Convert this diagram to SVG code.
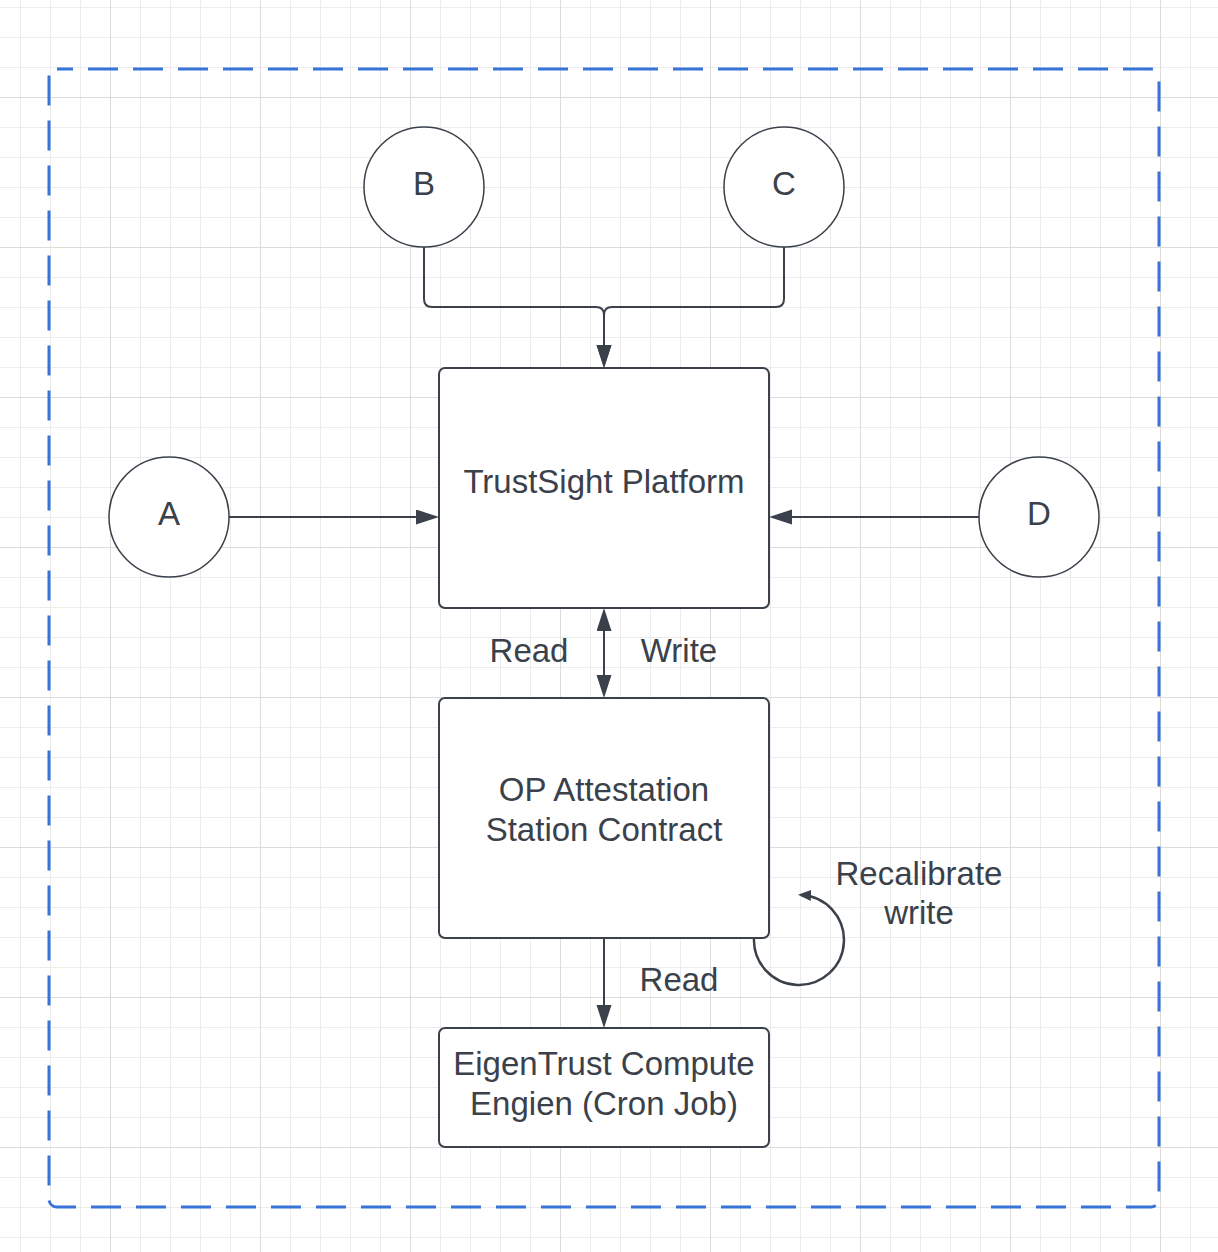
<svg xmlns="http://www.w3.org/2000/svg" width="1218" height="1252" viewBox="0 0 1218 1252">
<style>
.node{fill:#ffffff;stroke:#3a414a;stroke-width:2}
.circ{fill:#ffffff;stroke:#3a414a;stroke-width:1.5}
.lbl{font-family:"Liberation Sans",Arial,sans-serif;font-size:33px;fill:#3a414a;text-anchor:middle}
.con{fill:none;stroke:#3a414a;stroke-width:2}
</style>
<defs>
<pattern id="gMinor" patternUnits="userSpaceOnUse" x="20" y="7" width="30" height="30">
<rect x="0" y="0" width="1" height="30" fill="#ececec"/>
<rect x="0" y="0" width="30" height="1" fill="#ececec"/>
</pattern>
<pattern id="gMajor" patternUnits="userSpaceOnUse" x="110" y="97" width="150" height="150">
<rect x="0" y="0" width="1" height="150" fill="#dcdcdc"/>
<rect x="0" y="0" width="150" height="1" fill="#dcdcdc"/>
</pattern>
<marker id="arr" markerUnits="userSpaceOnUse" markerWidth="24" markerHeight="16" refX="20" refY="7.5" orient="auto-start-reverse">
<path d="M0,0 L23,7.5 L0,15 z" fill="#3a414a"/>
</marker>
<marker id="arrS" markerUnits="userSpaceOnUse" markerWidth="15" markerHeight="13" refX="10" refY="5.5" orient="auto">
<path d="M0,0 L13,5.5 L0,11 z" fill="#3a414a"/>
</marker>
</defs>
<rect width="1218" height="1252" fill="#ffffff"/>
<rect width="1218" height="1252" fill="url(#gMinor)"/>
<rect width="1218" height="1252" fill="url(#gMajor)"/>

<rect id="boundary" x="49" y="69" width="1110" height="1138" rx="8" fill="none" stroke="#3873d8" stroke-width="3" stroke-dasharray="30 15" stroke-dashoffset="14"/>

<g id="connectors">
<path class="con" d="M424 247 V299 Q424 307 432 307 H596 Q604 307 604 315 V365" marker-end="url(#arr)"/>
<path class="con" d="M784 247 V299 Q784 307 776 307 H612 Q604 307 604 315 V365" marker-end="url(#arr)"/>
<path class="con" d="M229 517 H436" marker-end="url(#arr)"/>
<path class="con" d="M979 517 H772" marker-end="url(#arr)"/>
<path class="con" d="M604 611 V695" marker-start="url(#arr)" marker-end="url(#arr)"/>
<path class="con" d="M604 938 V1025" marker-end="url(#arr)"/>
<path class="con" style="stroke-width:2.5" d="M754 938 A45 45 0 1 0 801 895" marker-end="url(#arrS)"/>
<text class="lbl" x="529" y="662">Read</text>
<text class="lbl" x="679" y="662">Write</text>
<text class="lbl" x="679" y="991">Read</text>
<text class="lbl" x="919" y="885">Recalibrate</text>
<text class="lbl" x="919" y="924">write</text>
</g>

<g id="node-B">
<circle class="circ" cx="424" cy="187" r="60"/>
<text class="lbl" x="424" y="195">B</text>
</g>
<g id="node-C">
<circle class="circ" cx="784" cy="187" r="60"/>
<text class="lbl" x="784" y="195">C</text>
</g>
<g id="node-A">
<circle class="circ" cx="169" cy="517" r="60"/>
<text class="lbl" x="169" y="525">A</text>
</g>
<g id="node-D">
<circle class="circ" cx="1039" cy="517" r="60"/>
<text class="lbl" x="1039" y="525">D</text>
</g>
<g id="node-trustsight">
<rect class="node" x="439" y="368" width="330" height="240" rx="6"/>
<text class="lbl" x="604" y="493">TrustSight Platform</text>
</g>
<g id="node-op">
<rect class="node" x="439" y="698" width="330" height="240" rx="6"/>
<text class="lbl" x="604" y="801">OP Attestation</text>
<text class="lbl" x="604" y="841">Station Contract</text>
</g>
<g id="node-eigentrust">
<rect class="node" x="439" y="1028" width="330" height="119" rx="6"/>
<text class="lbl" x="604" y="1075">EigenTrust Compute</text>
<text class="lbl" x="604" y="1115">Engien (Cron Job)</text>
</g>
</svg>
